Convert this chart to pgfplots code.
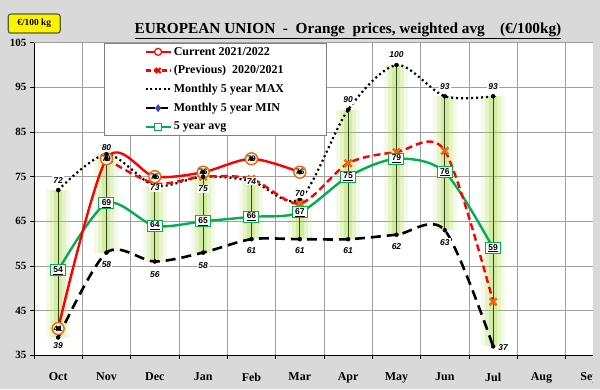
\documentclass[border=0pt]{standalone}
\usepackage{fontspec}
\setmainfont{Liberation Serif}
\newfontfamily\arialf{Liberation Sans}
\usepackage{pgfplots}
\pgfplotsset{compat=1.18}
\pgfdeclarelayer{background}
\pgfsetlayers{background,main}
\definecolor{bg}{RGB}{217,217,217}
\definecolor{curred}{RGB}{255,0,0}
\definecolor{mkorange}{RGB}{228,108,10}
\definecolor{avggreen}{RGB}{0,176,80}
\definecolor{glowc}{RGB}{165,215,60}
\definecolor{hilo}{RGB}{55,65,30}
\definecolor{gridc}{RGB}{160,160,160}
\definecolor{boxborder}{RGB}{80,100,40}
\definecolor{mindot}{RGB}{110,130,110}
\begin{document}
\begin{tikzpicture}[x=1pt,y=1pt]
\begin{axis}[
  scale only axis,
  width=559pt, height=312.6pt,
  xmin=-0.5, xmax=11.066, ymin=35, ymax=105,
  clip=false,
  axis x line*=bottom, axis y line*=left,
  tick pos=left,
  axis line style={black, line width=0.8pt, -},
  axis background/.style={fill=white},
  xtick={-0.5,0.5,...,10.5}, xticklabel={\mbox{}},
  extra x ticks={0,1,...,11},
  extra x tick labels={Oct,Nov,Dec,Jan,Feb,Mar,Apr,May,Jun,Jul,Aug,Sep},
  extra x tick style={grid=none, major tick length=0pt},
  ytick={35,45,...,105},
  xmajorgrids, ymajorgrids,
  grid style={gridc, line width=0.8pt},
  tick align=outside, major tick length=4pt,
  tick style={black, line width=0.8pt},
  /pgf/number format/assume math mode=true,
  yticklabel style={font=\fontsize{11}{12}\selectfont\bfseries},
  xticklabel style={font=\fontsize{12}{13}\selectfont\bfseries, yshift=-14pt},
  legend style={at={(0.1252,1)}, anchor=north west, draw=gray, line width=0.8pt, fill=white,
    font=\fontsize{12}{13}\selectfont\bfseries, inner xsep=40pt, inner ysep=2pt, row sep=5pt},
  legend cell align=left,
  legend image code/.code={\draw[mark repeat=2,mark phase=2,#1] plot coordinates {(0pt,0pt) (12.5pt,0pt) (25pt,0pt)};},
]
\coordinate (sw) at (rel axis cs:0,0);
% legend images
\addlegendimage{draw=curred, line width=2.4pt, mark=*, mark size=3.5pt, mark options={draw=curred, fill=white, line width=1.2pt, solid}}
\addlegendentry{Current 2021/2022}
\addlegendimage{draw=curred, line width=2.4pt, dash pattern=on 5pt off 3pt, mark=x, mark size=3.5pt, mark options={draw=curred, line width=2pt, solid}}
\addlegendentry{(Previous)\ \ 2020/2021}
\addlegendimage{draw=black, line width=2.2pt, dash pattern=on 2pt off 2.5pt}
\addlegendentry{Monthly 5 year MAX}
\addlegendimage{draw=black, line width=2.4pt, dash pattern=on 9pt off 4pt, mark=diamond*, mark size=2pt, mark options={fill=blue!50!gray, draw=blue!50!gray, solid}}
\addlegendentry{Monthly 5 year MIN}
\addlegendimage{draw=avggreen, line width=2.2pt, mark=square*, mark size=3.5pt, mark options={fill=white, draw=avggreen, line width=1pt, solid}}
\addlegendentry{5 year avg}
% glow
\addplot[forget plot, glowc, opacity=0.12, line width=24pt, unbounded coords=jump] coordinates {(0,39)(0,72)(0,nan)(1,58)(1,80)(1,nan)(2,56)(2,73)(2,nan)(3,58)(3,75)(3,nan)(4,61)(4,74)(4,nan)(5,61)(5,70)(5,nan)(6,61)(6,90)(6,nan)(7,62)(7,100)(7,nan)(8,63)(8,93)(8,nan)(9,37)(9,93)};
\addplot[forget plot, glowc, opacity=0.18, line width=16pt, unbounded coords=jump] coordinates {(0,39)(0,72)(0,nan)(1,58)(1,80)(1,nan)(2,56)(2,73)(2,nan)(3,58)(3,75)(3,nan)(4,61)(4,74)(4,nan)(5,61)(5,70)(5,nan)(6,61)(6,90)(6,nan)(7,62)(7,100)(7,nan)(8,63)(8,93)(8,nan)(9,37)(9,93)};
\addplot[forget plot, glowc, opacity=0.25, line width=8pt, unbounded coords=jump] coordinates {(0,39)(0,72)(0,nan)(1,58)(1,80)(1,nan)(2,56)(2,73)(2,nan)(3,58)(3,75)(3,nan)(4,61)(4,74)(4,nan)(5,61)(5,70)(5,nan)(6,61)(6,90)(6,nan)(7,62)(7,100)(7,nan)(8,63)(8,93)(8,nan)(9,37)(9,93)};
% high-low lines
\addplot[forget plot, hilo, line width=1pt, unbounded coords=jump] coordinates {(0,39)(0,72)(0,nan)(1,58)(1,80)(1,nan)(2,56)(2,73)(2,nan)(3,58)(3,75)(3,nan)(4,61)(4,74)(4,nan)(5,61)(5,70)(5,nan)(6,61)(6,90)(6,nan)(7,62)(7,100)(7,nan)(8,63)(8,93)(8,nan)(9,37)(9,93)};
% max
\addplot[forget plot, black, line width=2.2pt, dash pattern=on 2pt off 3pt, smooth, mark=-, mark size=2.5pt, mark options={hilo, line width=1pt, solid}] coordinates {(0,72)(1,80)(2,73)(3,75)(4,74)(5,70)(6,90)(7,100)(8,93)(9,93)};
% min
\addplot[forget plot, black, line width=2.6pt, dash pattern=on 10pt off 6pt, smooth, mark=diamond*, mark size=1.8pt, mark options={mindot, solid, line width=0.4pt}] coordinates {(0,39)(1,58)(2,56)(3,58)(4,61)(5,61)(6,61)(7,62)(8,63)(9,37)};
% avg
\addplot[forget plot, avggreen, line width=2.4pt, smooth] coordinates {(0,54)(1,69)(2,64)(3,65)(4,66)(5,67)(6,75)(7,79)(8,76)(9,59)};
% previous
\addplot[forget plot, curred, line width=2.4pt, dash pattern=on 7pt off 4pt, smooth, mark=x, mark size=5pt, mark options={mkorange, line width=2.4pt, solid}] coordinates {(1,79)(2,73.5)(3,75)(4,74.5)(5,69)(6,78)(7,80.5)(8,80.8)(9,47)};
% current
\addplot[forget plot, curred, line width=2.4pt, smooth, mark=*, mark size=6pt, mark options={draw=mkorange, fill=orange!10, line width=1.4pt, solid}] coordinates {(0,41)(1,79)(2,75)(3,76)(4,79)(5,76)};
% avg labels
\addplot[forget plot, only marks, mark=*, mark options={draw=none, fill=none}, point meta=y,
  nodes near coords={\underline{\pgfmathprintnumber{\pgfplotspointmeta}}},
  every node near coord/.append style={anchor=center, draw=avggreen, fill=white, line width=1pt, inner sep=1.5pt, minimum width=15pt, minimum height=11pt, text=black, font=\arialf\fontsize{8.5}{9}\selectfont\bfseries}]
  coordinates {(0,54)(1,69)(2,64)(3,65)(4,66)(5,67)(6,75)(7,79)(8,76)(9,59)};
% current labels
\addplot[forget plot, only marks, mark=*, mark options={draw=none, fill=none}, point meta=y,
  nodes near coords={\pgfmathprintnumber{\pgfplotspointmeta}},
  every node near coord/.append style={anchor=center, inner sep=0pt, text=black, font=\arialf\fontsize{8}{9}\selectfont\bfseries}]
  coordinates {(0,41)(1,79)(2,75)(3,76)(4,79)(5,76)};
% max labels
\addplot[forget plot, only marks, mark=*, mark options={draw=none, fill=none}, point meta=y,
  visualization depends on={\thisrow{dy}\as\dy},
  nodes near coords={\pgfmathprintnumber{\pgfplotspointmeta}},
  every node near coord/.append style={anchor=center, yshift=\dy pt, fill=white, inner sep=1pt, text=black, font=\arialf\fontsize{8.5}{9}\selectfont\bfseries\itshape}]
  table[x=x, y=y] {
x y dy
0 72 10
1 80 7
2 73 -2
3 75 -12
4 74 0
5 70 5
6 90 10
7 100 10
8 93 10
9 93 10
};
% min labels
\addplot[forget plot, only marks, mark=*, mark options={draw=none, fill=none}, point meta=y,
  visualization depends on={\thisrow{dx}\as\dx},
  visualization depends on={\thisrow{dy}\as\dy},
  nodes near coords={\pgfmathprintnumber{\pgfplotspointmeta}},
  every node near coord/.append style={anchor=center, xshift=\dx pt, yshift=\dy pt, fill=white, inner sep=1pt, text=black, font=\arialf\fontsize{8.5}{9}\selectfont\bfseries\itshape}]
  table[x=x, y=y] {
x y dx dy
0 39 0 -8
1 58 0 -12
2 56 0 -13
3 58 0 -13
4 61 0 -11.5
5 61 0 -11
6 61 0 -11
7 62 0 -11.5
8 63 0 -12
9 37 10 -1.5
};
\end{axis}
\begin{scope}[shift={(sw)}, xshift=-34pt, yshift=-33.7pt]
\begin{pgfonlayer}{background}
\fill[bg] (0,0) rectangle (600,389);
\end{pgfonlayer}
\fill[bg] (593,0) rectangle (640,389);
\node[anchor=base, font=\fontsize{15.3}{18}\selectfont\bfseries] at (348,355.3) {\underline{EUROPEAN UNION\ \ -\ \ Orange\ \ prices, weighted avg\ \ \ \ (€/100kg)}};
\node[draw=boxborder, fill=yellow, rounded corners=2.5pt, line width=1.2pt, minimum width=52pt, minimum height=19pt, inner sep=0pt, font=\fontsize{9.4}{10}\selectfont\bfseries] at (34.2,365.4) {€/100 kg};
\pgfresetboundingbox
\useasboundingbox (0,0) rectangle (600,389);
\end{scope}
\end{tikzpicture}
\end{document}
